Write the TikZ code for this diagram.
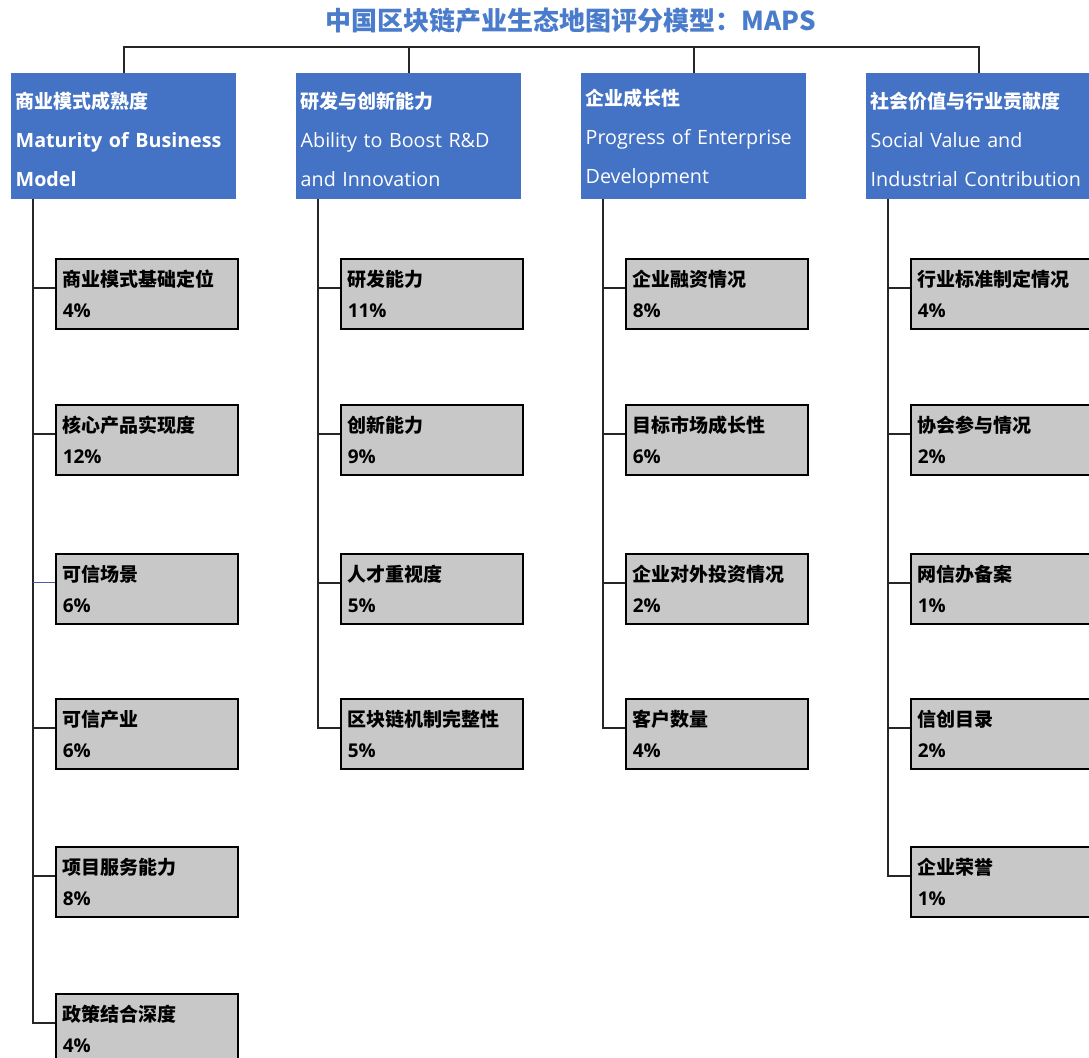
\documentclass[tikz,border=0pt]{standalone}
\usepackage{fontspec}
\setmainfont{Open Sans}
\newfontfamily\cjk{Noto Sans CJK SC}
\usetikzlibrary{calc}
\definecolor{hdr}{HTML}{4472C4}
\definecolor{ttl}{HTML}{4A7CCB}
\definecolor{cbox}{HTML}{C8C8C8}
\definecolor{odd}{HTML}{4A5EA8}
\newcommand{\hcn}[1]{{\rule{0pt}{22pt}\cjk\bfseries\fontsize{19}{39}\selectfont #1}}
\begin{document}
\begin{tikzpicture}[x=1pt,y=-1pt,
  hdrbox/.style={fill=hdr, draw=none, text=white, anchor=north west,
    minimum width=225pt, minimum height=126pt, text width=216pt,
    inner xsep=4.5pt, inner ysep=0pt, align=left,
    font=\fontsize{19.7}{39}\selectfont},
  kid/.style={fill=cbox, draw=black, line width=1.5pt, anchor=north west,
    minimum width=182pt, minimum height=70pt, text width=168pt,
    inner xsep=7pt, inner ysep=0pt, align=left,
    font=\fontsize{19}{31}\selectfont\bfseries},
  link/.style={draw=black!85, line width=1.8pt}]
\clip (0,0) rectangle (1089,1057);
\useasboundingbox (0,0) rectangle (1089,1057);
\fill[white] (0,0) rectangle (1089,1057);

% title
\node (title) at (571,21) {\fontsize{26}{30}\selectfont\cjk\bfseries\color{ttl}中国区块链产业生态地图评分模型：MAPS};
\coordinate (bus) at (0,47);

% headers
\node[hdrbox] (h1) at (11,73) {\hcn{商业模式成熟度}\\\textbf{Maturity of Business}\\\textbf{Model}};
\node[hdrbox] (h2) at (296,73) {\hcn{研发与创新能力}\\Ability to Boost R\&D\\and Innovation};
\node[hdrbox] (h3) at (581,73) {\hcn{企业成长性}\\Progress of Enterprise\\Development};
\node[hdrbox] (h4) at (866,73) {\hcn{社会价值与行业贡献度}\\Social Value and\\Industrial Contribution};

% bus
\draw[link] (h1.north) |- (h4.north |- bus) -- (h4.north);
\draw[link] (h2.north) -- (h2.north |- bus);
\draw[link] (h3.north) -- (h3.north |- bus);

% column 1
\node[kid] (a1) at (55,258) {{\cjk 商业模式基础定位}\\4\%};
\node[kid] (a2) at (55,404) {{\cjk 核心产品实现度}\\12\%};
\node[kid] (a3) at (55,553) {{\cjk 可信场景}\\6\%};
\node[kid] (a4) at (55,698) {{\cjk 可信产业}\\6\%};
\node[kid] (a5) at (55,846) {{\cjk 项目服务能力}\\8\%};
\node[kid] (a6) at (55,993) {{\cjk 政策结合深度}\\4\%};

% column 2
\node[kid] (b1) at (340,258) {{\cjk 研发能力}\\11\%};
\node[kid] (b2) at (340,404) {{\cjk 创新能力}\\9\%};
\node[kid] (b3) at (340,553) {{\cjk 人才重视度}\\5\%};
\node[kid] (b4) at (340,698) {{\cjk 区块链机制完整性}\\5\%};

% column 3
\node[kid] (c1) at (625,258) {{\cjk 企业融资情况}\\8\%};
\node[kid] (c2) at (625,404) {{\cjk 目标市场成长性}\\6\%};
\node[kid] (c3) at (625,553) {{\cjk 企业对外投资情况}\\2\%};
\node[kid] (c4) at (625,698) {{\cjk 客户数量}\\4\%};

% column 4
\node[kid] (d1) at (910,258) {{\cjk 行业标准制定情况}\\4\%};
\node[kid] (d2) at (910,404) {{\cjk 协会参与情况}\\2\%};
\node[kid] (d3) at (910,553) {{\cjk 网信办备案}\\1\%};
\node[kid] (d4) at (910,698) {{\cjk 信创目录}\\2\%};
\node[kid] (d5) at (910,846) {{\cjk 企业荣誉}\\1\%};

% trunks
\coordinate (ta) at ($(h1.south west)+(22,0)$);
\coordinate (tb) at ($(h2.south west)+(22,0)$);
\coordinate (tc) at ($(h3.south west)+(22,0)$);
\coordinate (td) at ($(h4.south west)+(22,0)$);

\foreach \k in {a1,a2,a3,a4,a5,a6,b1,b2,b3,b4,c1,c2,c3,c4,d1,d2,d3,d4,d5}
  \coordinate (p\k) at ([yshift=6pt]\k.west);

\draw[link] (ta) |- (pa6);
\foreach \k in {a1,a2,a4,a5} \draw[link] (ta |- p\k) -- (p\k);
\draw[draw=odd, line width=1.2pt] (ta |- pa3) -- (pa3);

\draw[link] (tb) |- (pb4);
\foreach \k in {b1,b2,b3} \draw[link] (tb |- p\k) -- (p\k);

\draw[link] (tc) |- (pc4);
\foreach \k in {c1,c2,c3} \draw[link] (tc |- p\k) -- (p\k);

\draw[link] (td) |- (pd5);
\foreach \k in {d1,d2,d3,d4} \draw[link] (td |- p\k) -- (p\k);
\end{tikzpicture}
\end{document}
